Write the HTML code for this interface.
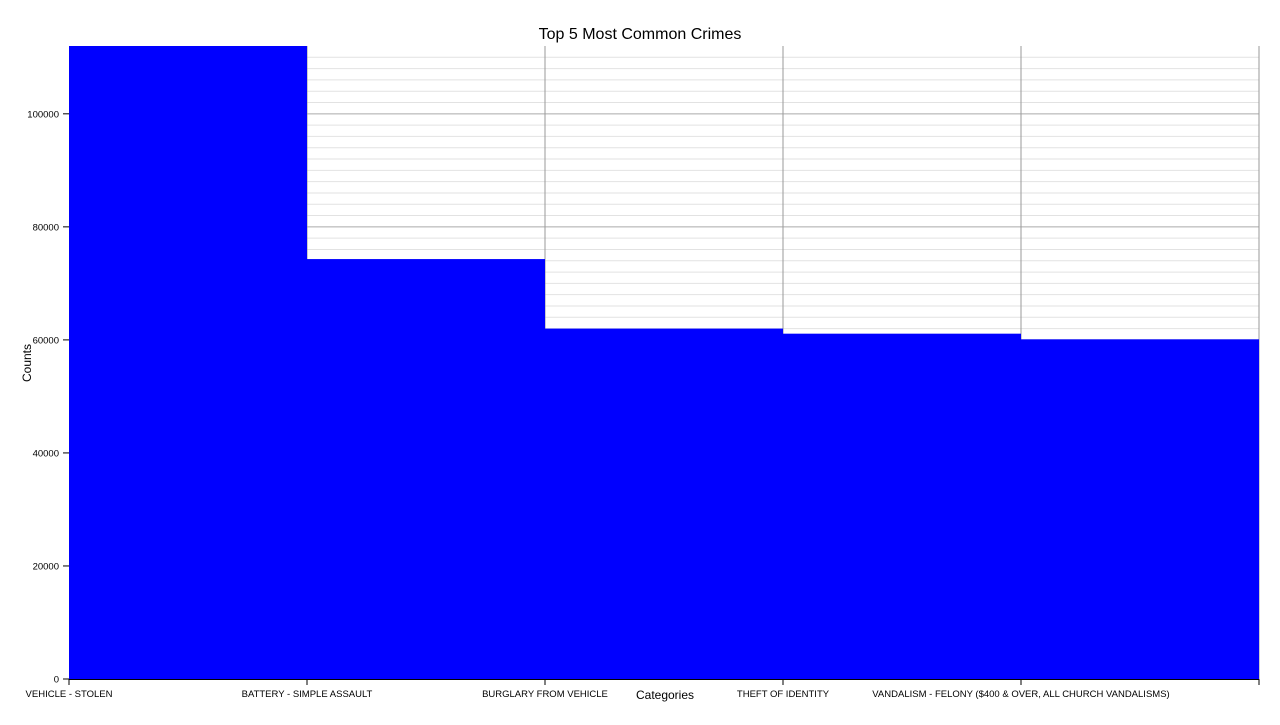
<!DOCTYPE html>
<html><head><meta charset="utf-8"><style>
body{margin:0;background:#fff;font-family:"Liberation Sans",Arial,sans-serif;}
svg text{font-family:"Liberation Sans",Arial,sans-serif;}
</style></head><body>
<svg id="chart" width="1280" height="720" xmlns="http://www.w3.org/2000/svg">
<text x="640" y="39" text-anchor="middle" font-size="16">Top 5 Most Common Crimes</text>
<g id="grid"></g><g id="bars"></g><g id="axes"></g>
<text x="665" y="699" text-anchor="middle" font-size="12">Categories</text>
<text transform="translate(31,363) rotate(-90)" text-anchor="middle" font-size="12">Counts</text>
</svg>
<script>
const categories=["VEHICLE - STOLEN","BATTERY - SIMPLE ASSAULT","BURGLARY FROM VEHICLE","THEFT OF IDENTITY","VANDALISM - FELONY ($400 & OVER, ALL CHURCH VANDALISMS)"];
const counts=[115000,74300,62000,61100,60100];
const yTicks=[0,20000,40000,60000,80000,100000];
const NS="http://www.w3.org/2000/svg";
const L=69,R=1259,T=46,B=679,YMAX=112000;
const bw=(R-L)/categories.length;
const y=v=>B-(v/YMAX)*(B-T);
const x=i=>L+i*bw;
function mk(tag,attrs,parent){const e=document.createElementNS(NS,tag);for(const k in attrs)e.setAttribute(k,attrs[k]);parent.appendChild(e);return e;}
const grid=document.getElementById('grid'),bars=document.getElementById('bars'),axes=document.getElementById('axes');
for(let v=2000;v<YMAX;v+=2000){const major=v%20000===0;
const g=mk('line',{x1:L,x2:R,y1:y(v),y2:y(v),stroke:major?'#aaa':'#e2e2e2','stroke-width':1},grid);

}
for(let i=1;i<=categories.length;i++){const g=mk('line',{x1:x(i),x2:x(i),y1:T,y2:B,stroke:'#999','stroke-width':1},grid);

}
categories.forEach((c,i)=>{const top=Math.max(T,y(counts[i]));
const r=mk('rect',{x:x(i),y:top,width:bw,height:B-top,fill:'#0000ff'},bars);


const t=mk('line',{x1:x(i),x2:x(i),y1:B,y2:B+6,stroke:'#000'},axes);


const lb=mk('text',{x:x(i),y:B+18,'text-anchor':'middle','font-size':9.5},axes);lb.textContent=c;

});
const te=mk('line',{x1:R,x2:R,y1:B,y2:B+6,stroke:'#000'},axes);


const xa=mk('line',{x1:L,x2:R,y1:B+0.5,y2:B+0.5,stroke:'#000'},axes);


yTicks.forEach(v=>{const t=mk('line',{x1:L-6,x2:L,y1:y(v),y2:y(v),stroke:'#000'},axes);


const lb=mk('text',{x:L-10,y:y(v)+3.5,'text-anchor':'end','font-size':9.5},axes);lb.textContent=v;

});
</script>
</body></html>
